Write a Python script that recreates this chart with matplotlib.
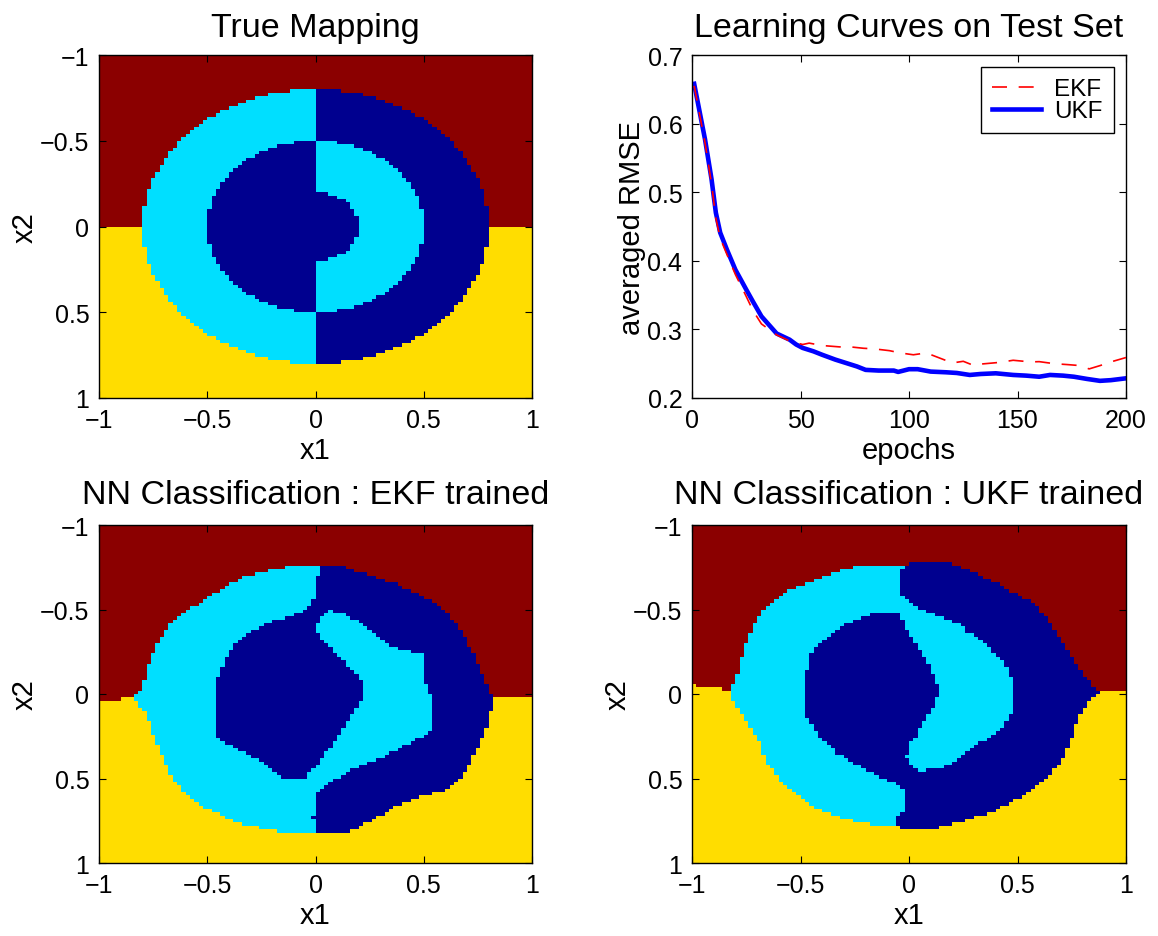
import numpy as np
import matplotlib
matplotlib.use('Agg')
import matplotlib.pyplot as plt
from matplotlib.colors import ListedColormap
from matplotlib.path import Path

plt.rcParams['font.family'] = ['Liberation Sans', 'DejaVu Sans']

# class colours (jet-like): 0 navy, 1 cyan, 2 yellow, 3 dark red
CLASS_COLORS = ['#00008F', '#00DFFF', '#FFDD00', '#8B0000']

GRID_N = 100
# true mapping radii
R_OUTER, R_MID, R_INNER = 0.8, 0.5, 0.2

IMG_TICKS = [-1, -0.5, 0, 0.5, 1]
IMG_TICK_LABELS = ['\u22121', '\u22120.5', '0', '0.5', '1']

# --- EKF trained network: boundaries (x1, x2) ---
EKF_DISK = [(-0.099, -0.756), (0.132, -0.756), (0.132, -0.746), (0.255, -0.701), (0.354, -0.659),
            (0.461, -0.600), (0.560, -0.532), (0.634, -0.444), (0.684, -0.346), (0.725, -0.249),
            (0.758, -0.151), (0.791, -0.054), (0.824, 0.024), (0.807, 0.122), (0.783, 0.239),
            (0.733, 0.356), (0.700, 0.454), (0.651, 0.522), (0.593, 0.571), (0.486, 0.610),
            (0.395, 0.649), (0.321, 0.707), (0.206, 0.785), (0.140, 0.824), (-0.099, 0.824),
            (-0.206, 0.805), (-0.321, 0.776), (-0.420, 0.727), (-0.519, 0.668), (-0.601, 0.590),
            (-0.667, 0.493), (-0.708, 0.376), (-0.750, 0.239), (-0.783, 0.122), (-0.815, 0.063),
            (-0.840, 0.015), (-0.799, -0.034), (-0.783, -0.132), (-0.750, -0.249), (-0.700, -0.366),
            (-0.634, -0.463), (-0.535, -0.541), (-0.437, -0.620), (-0.321, -0.698), (-0.206, -0.737)]
EKF_CYAN = [(0.016, -1.1), (0.016, -0.756), (0.0, -0.581), (-0.041, -0.503), (-0.107, -0.464),
            (-0.206, -0.425), (-0.305, -0.366), (-0.379, -0.288), (-0.420, -0.190), (-0.453, -0.093),
            (-0.470, 0.024), (-0.470, 0.200), (-0.445, 0.278), (-0.338, 0.337), (-0.272, 0.385),
            (-0.206, 0.444), (-0.157, 0.502), (-0.058, 0.502), (-0.008, 0.444), (0.025, 0.385),
            (0.066, 0.327), (0.099, 0.268), (0.140, 0.190), (0.181, 0.102), (0.222, 0.024),
            (0.222, -0.054), (0.190, -0.112), (0.148, -0.171), (0.099, -0.229), (0.058, -0.288),
            (0.016, -0.337), (0.0, -0.405), (0.025, -0.464), (0.074, -0.493), (0.124, -0.483),
            (0.190, -0.434), (0.239, -0.385), (0.297, -0.327), (0.354, -0.278), (0.437, -0.249),
            (0.494, -0.239), (0.494, -0.112), (0.536, 0.024), (0.536, 0.220), (0.453, 0.278),
            (0.404, 0.307), (0.338, 0.356), (0.272, 0.395), (0.189, 0.434), (0.107, 0.493),
            (0.041, 0.551), (0.0, 0.600), (0.0, 0.707), (-0.016, 0.717), (-0.016, 0.746),
            (0.0, 0.756), (0.0, 1.1), (-1.1, 1.1), (-1.1, -1.1)]
EKF_RY_X1 = [-1.0, -0.85, 0.85, 1.0]
EKF_RY_X2 = [0.044, 0.024, 0.024, 0.024]

# --- UKF trained network ---
UKF_DISK = [(-0.217, -0.761), (-0.021, -0.761), (0.030, -0.781), (0.183, -0.781), (0.200, -0.761),
            (0.268, -0.742), (0.336, -0.693), (0.421, -0.644), (0.489, -0.595), (0.566, -0.546),
            (0.626, -0.468), (0.677, -0.370), (0.728, -0.272), (0.770, -0.174), (0.813, -0.096),
            (0.855, -0.037), (0.881, -0.022), (0.847, 0.022), (0.804, 0.080), (0.770, 0.178),
            (0.745, 0.276), (0.711, 0.374), (0.668, 0.452), (0.617, 0.521), (0.549, 0.579),
            (0.489, 0.628), (0.404, 0.687), (0.319, 0.726), (0.183, 0.775), (0.098, 0.804),
            (-0.021, 0.795), (-0.072, 0.785), (-0.209, 0.765), (-0.328, 0.726), (-0.430, 0.677),
            (-0.498, 0.618), (-0.566, 0.550), (-0.617, 0.472), (-0.660, 0.393), (-0.685, 0.295),
            (-0.728, 0.198), (-0.770, 0.119), (-0.804, 0.061), (-0.825, 0.002), (-0.804, -0.076),
            (-0.779, -0.155), (-0.762, -0.272), (-0.736, -0.350), (-0.702, -0.429), (-0.668, -0.507),
            (-0.634, -0.546), (-0.566, -0.605), (-0.481, -0.654), (-0.379, -0.703), (-0.294, -0.742)]
UKF_CYAN = [(-0.021, -1.1), (-0.021, -0.761), (-0.035, -0.722), (-0.035, -0.585), (-0.021, -0.566),
            (0.021, -0.526), (0.081, -0.487), (0.140, -0.458), (0.183, -0.438), (0.234, -0.409),
            (0.268, -0.370), (0.319, -0.331), (0.370, -0.272), (0.421, -0.213), (0.464, -0.135),
            (0.481, -0.057), (0.481, 0.100), (0.455, 0.159), (0.421, 0.217), (0.370, 0.256),
            (0.319, 0.295), (0.268, 0.335), (0.217, 0.393), (0.157, 0.432), (0.106, 0.442),
            (0.047, 0.456), (0.004, 0.423), (-0.013, 0.364), (0.004, 0.295), (0.038, 0.237),
            (0.072, 0.159), (0.106, 0.100), (0.123, 0.041), (0.140, -0.018), (0.123, -0.076),
            (0.098, -0.155), (0.072, -0.213), (0.038, -0.272), (0.004, -0.350), (-0.021, -0.409),
            (-0.038, -0.468), (-0.072, -0.483), (-0.157, -0.483), (-0.243, -0.438), (-0.328, -0.389),
            (-0.396, -0.321), (-0.447, -0.252), (-0.464, -0.174), (-0.481, -0.076), (-0.481, 0.119),
            (-0.455, 0.178), (-0.421, 0.237), (-0.379, 0.295), (-0.328, 0.354), (-0.260, 0.413),
            (-0.191, 0.452), (-0.123, 0.501), (-0.055, 0.530), (-0.030, 0.569), (-0.021, 0.628),
            (-0.021, 0.687), (-0.055, 0.726), (-0.064, 0.785), (-0.064, 1.1), (-1.1, 1.1), (-1.1, -1.1)]
UKF_RY_X1 = [-1.0, -0.96, -0.88, -0.83, 0.87, 1.0]
UKF_RY_X2 = [-0.057, -0.037, -0.037, -0.018, -0.022, -0.022]

# --- learning curves ---
EPOCHS_UKF = [1, 6, 9, 11, 13, 16, 20, 25, 28, 32, 39, 45, 48, 51, 56, 60, 66, 71, 76, 80, 86,
              93, 95, 100, 104, 110, 117, 122, 128, 133, 140, 148, 154, 160, 165, 171, 176,
              182, 188, 193, 200]
RMSE_UKF = [0.658, 0.577, 0.519, 0.470, 0.441, 0.417, 0.387, 0.358, 0.341, 0.319, 0.294, 0.285,
            0.278, 0.273, 0.268, 0.263, 0.256, 0.251, 0.246, 0.241, 0.240, 0.240, 0.238, 0.242,
            0.242, 0.2385, 0.2375, 0.2365, 0.2336, 0.235, 0.236, 0.2336, 0.2326, 0.231, 0.2336,
            0.2326, 0.231, 0.2278, 0.225, 0.226, 0.2287]
EPOCHS_EKF = [1, 6, 9, 11, 13, 16, 20, 25, 28, 32, 39, 45, 51, 54, 60, 68, 73, 79, 84, 91, 96,
              102, 108, 114, 120, 125, 130, 134, 142, 148, 156, 160, 167, 173, 179, 183, 188,
              194, 200]
RMSE_EKF = [0.655, 0.572, 0.512, 0.462, 0.433, 0.410, 0.380, 0.348, 0.328, 0.308, 0.292, 0.283,
            0.278, 0.280, 0.2765, 0.2745, 0.2745, 0.2725, 0.2716, 0.269, 0.2657, 0.263, 0.2657,
            0.2584, 0.2511, 0.2535, 0.2472, 0.2497, 0.252, 0.255, 0.2526, 0.253, 0.250, 0.2487,
            0.2472, 0.2424, 0.2472, 0.2535, 0.259]

TITLE_FS = 24.5
LABEL_FS = 21
TICK_FS = 18

edges = np.linspace(-1, 1, GRID_N + 1)
centers = (edges[:-1] + edges[1:]) / 2
X1, X2 = np.meshgrid(centers, centers)
pts = np.column_stack([X1.ravel(), X2.ravel()])
cmap = ListedColormap(CLASS_COLORS)


def true_map():
    r = np.hypot(X1, X2)
    cls = np.where(X2 < 0, 3, 2)
    ring = (r <= R_OUTER) & (r > R_MID)
    cls = np.where(ring, np.where(X1 < 0, 1, 0), cls)
    inner = r <= R_MID
    inner_cls = np.where((X1 < 0) | (r <= R_INNER), 0, 1)
    return np.where(inner, inner_cls, cls)


def nn_map(disk, cyan, ry_x, ry_y):
    in_disk = Path(disk).contains_points(pts).reshape(X1.shape)
    in_cyan = Path(cyan).contains_points(pts).reshape(X1.shape)
    cls = np.where(X2 < np.interp(X1, ry_x, ry_y), 3, 2)
    return np.where(in_disk, np.where(in_cyan, 1, 0), cls)


def style(ax):
    ax.tick_params(direction='in', top=True, right=True, length=5, width=0.8,
                   labelsize=TICK_FS, pad=7)
    for s in ax.spines.values():
        s.set_linewidth(1.0)


def class_panel(ax, cls, title, pad):
    ax.pcolormesh(edges, edges, cls, cmap=cmap, vmin=-0.5, vmax=3.5)
    ax.set_xlim(-1, 1)
    ax.set_ylim(1, -1)
    ax.set_xticks(IMG_TICKS)
    ax.set_xticklabels(IMG_TICK_LABELS)
    ax.set_yticks(IMG_TICKS)
    ax.set_yticklabels(IMG_TICK_LABELS)
    ax.set_xlabel('x1', fontsize=LABEL_FS, labelpad=3)
    ax.set_ylabel('x2', fontsize=LABEL_FS, labelpad=1)
    ax.set_title(title, fontsize=TITLE_FS, pad=pad)
    style(ax)


W, H = 1158, 937
fig = plt.figure(figsize=(W / 100, H / 100), dpi=100)


def rect(l, t, r, b):
    return [l / W, 1 - b / H, (r - l) / W, (b - t) / H]


ax_true = fig.add_axes(rect(99, 56, 532, 399))
ax_lc = fig.add_axes(rect(692, 56, 1126, 399))
ax_ekf = fig.add_axes(rect(99, 526, 532, 864))
ax_ukf = fig.add_axes(rect(692, 526, 1126, 864))

class_panel(ax_true, true_map(), 'True Mapping', 14)
class_panel(ax_ekf, nn_map(EKF_DISK, EKF_CYAN, EKF_RY_X1, EKF_RY_X2),
            'NN Classification : EKF trained', 16)
class_panel(ax_ukf, nn_map(UKF_DISK, UKF_CYAN, UKF_RY_X1, UKF_RY_X2),
            'NN Classification : UKF trained', 16)

# learning curves
l_ukf, = ax_lc.plot(EPOCHS_UKF, RMSE_UKF, color='#0000FF', lw=3.3, zorder=2)
l_ekf, = ax_lc.plot(EPOCHS_EKF, RMSE_EKF, color='#FF0000', lw=1.2, dashes=(9, 7), zorder=3)
ax_lc.set_xlim(0, 200)
ax_lc.set_ylim(0.2, 0.7)
ax_lc.set_xticks([0, 50, 100, 150, 200])
ax_lc.set_yticks([0.2, 0.3, 0.4, 0.5, 0.6, 0.7])
ax_lc.set_xlabel('epochs', fontsize=LABEL_FS, labelpad=3)
ax_lc.set_ylabel('averaged RMSE', fontsize=LABEL_FS, labelpad=1)
ax_lc.set_title('Learning Curves on Test Set', fontsize=TITLE_FS, pad=14)
style(ax_lc)
leg = ax_lc.legend([l_ekf, l_ukf], ['EKF', 'UKF'], loc='upper right', fontsize=17.5,
                   fancybox=False, framealpha=1, edgecolor='black', handlelength=2.0,
                   handletextpad=0.55, borderaxespad=0.5, borderpad=0.45, labelspacing=0.0)
leg.get_frame().set_linewidth(1.0)

fig.savefig('out.png', dpi=100)
